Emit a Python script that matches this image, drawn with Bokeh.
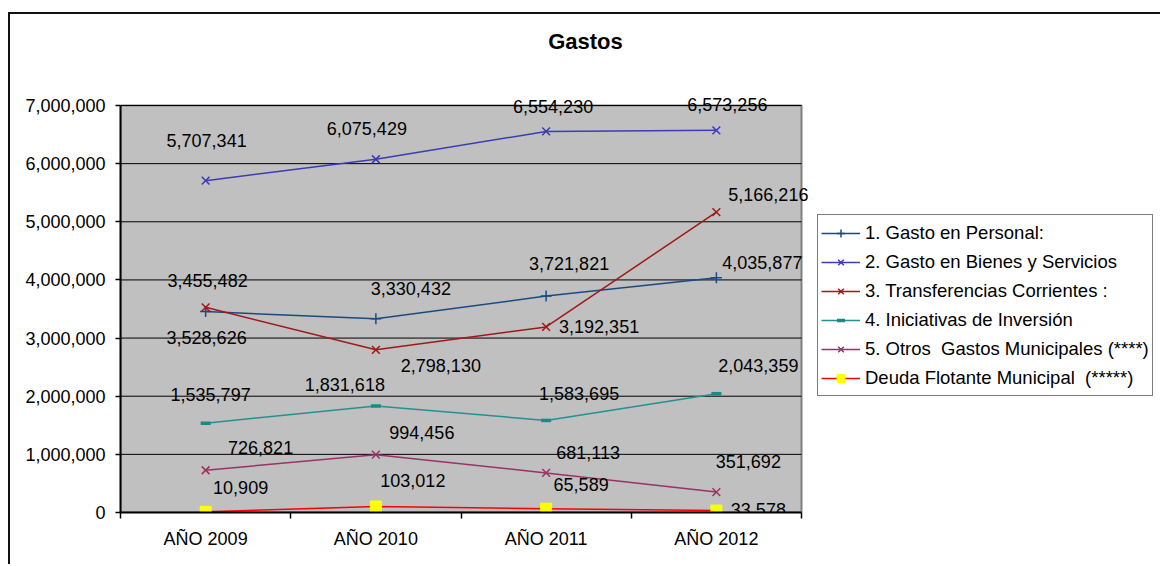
from bokeh.plotting import figure
from bokeh.models import (ColumnDataSource, Range1d, FixedTicker, NumeralTickFormatter,
                          LabelSet, Label, Legend, LegendItem)
from bokeh.core.properties import value
from bokeh.embed import file_html
from bokeh.resources import INLINE

# ---- data ----
years = ["AÑO 2009", "AÑO 2010", "AÑO 2011", "AÑO 2012"]
gasto_personal = [3455482, 3330432, 3721821, 4035877]
gasto_bienes = [5707341, 6075429, 6554230, 6573256]
transferencias = [3528626, 2798130, 3192351, 5166216]
iniciativas_inversion = [1535797, 1831618, 1583695, 2043359]
otros_gastos = [726821, 994456, 681113, 351692]
deuda_flotante = [10909, 103012, 65589, 33578]
y_ticks = [0, 1000000, 2000000, 3000000, 4000000, 5000000, 6000000, 7000000]

FONT = "Liberation Sans"
N = len(years)
Y_MAX = y_ticks[-1]
xs = [i + 0.5 for i in range(N)]

# ---- page geometry (pixels) ----
W, H = 1162, 566
OUTER_LEFT, OUTER_TOP = 8, 12            # outer chart border
CANVAS_W = W - OUTER_LEFT - 2
CANVAS_H = H - OUTER_TOP - 2
AREA_LEFT, AREA_RIGHT = 120, 801         # gray plotting area on the page
AREA_TOP, AREA_BOTTOM = 105, 512
CAT_PX = (AREA_RIGHT - AREA_LEFT) / N
VAL_PX = (AREA_BOTTOM - AREA_TOP) / Y_MAX

border_left = AREA_LEFT - OUTER_LEFT - 2
border_bottom = CANVAS_H - (AREA_BOTTOM - OUTER_TOP - 2)
frame_w = CANVAS_W - border_left
frame_h = CANVAS_H - border_bottom
x_end = frame_w / CAT_PX
y_end = frame_h / VAL_PX


def page_x(px):
    return (px - AREA_LEFT) / CAT_PX


def page_y(py):
    return (AREA_BOTTOM - py) / VAL_PX


# series: (legend label, values, line colour, marker, marker colour, marker size, marker line width, label offsets)
series = [
    ("1. Gasto en Personal:", gasto_personal, "#1B4A82", "cross", "#1B4A82", 11, 1.5,
     [(2, 31), (35, 30), (23, 33), (46, 15)]),
    ("2. Gasto en Bienes y Servicios", gasto_bienes, "#3C3CB4", "x", "#3C3CB4", 11, 1.5,
     [(1, 40), (-9, 31), (7, 25), (11, 26)]),
    ("3. Transferencias Corrientes :", transferencias, "#A01818", "x", "#A01818", 11, 1.5,
     [(1, -30), (65, -16), (53, 0), (52, 18)]),
    ("4. Iniciativas de Inversión", iniciativas_inversion, "#239191", "dash", "#1E8787", 10, 3.5,
     [(5, 29), (-31, 22), (33, 27), (42, 28)]),
    ("5. Otros  Gastos Municipales (****)", otros_gastos, "#993366", "x", "#993366", 11, 1.5,
     [(55, 23), (46, 22), (42, 20), (32, 31)]),
    ("Deuda Flotante Municipal  (*****)", deuda_flotante, "#FF0000", "square", "#FFFF00", 11, 0,
     [(35, 24), (37, 26), (35, 24), (42, 1)]),
]

p = figure(width=CANVAS_W, height=CANVAS_H, x_range=Range1d(0, x_end), y_range=Range1d(0, y_end),
           output_backend="svg", toolbar_location=None,
           min_border_left=border_left, min_border_right=0, min_border_top=0,
           min_border_bottom=border_bottom)
p.styles = {"margin-left": f"{OUTER_LEFT}px", "margin-top": f"{OUTER_TOP}px",
            "border-left": "2px solid #111", "border-top": "2px solid #111"}
p.background_fill_color = "white"
p.border_fill_color = "white"
p.outline_line_color = None
p.xgrid.visible = False
p.ygrid.visible = False

# gray plotting area with its gray top/right edge
p.quad(left=[0], right=[N], bottom=[0], top=[Y_MAX], fill_color="#C0C0C0",
       line_color="#808080", line_width=2)
# horizontal gridlines
p.segment(x0=[0] * len(y_ticks), x1=[N] * len(y_ticks), y0=y_ticks, y1=y_ticks,
          line_color="black", line_width=1)

# y axis
p.yaxis.ticker = FixedTicker(ticks=y_ticks)
p.yaxis.bounds = (0, Y_MAX)
p.yaxis.formatter = NumeralTickFormatter(format="0,0")
p.yaxis.major_tick_out = 5
p.yaxis.major_tick_in = 0
p.yaxis.minor_tick_out = 0
p.yaxis.minor_tick_in = 0
p.yaxis.major_label_standoff = 10
p.yaxis.axis_line_width = 2
p.yaxis.axis_line_color = "black"
p.yaxis.major_tick_line_color = "black"
p.yaxis.major_tick_line_width = 1.5
p.yaxis.major_label_text_font = FONT
p.yaxis.major_label_text_font_size = "18px"
p.yaxis.major_label_text_color = "black"

# x axis: labels centred on categories, ticks on category boundaries
p.xaxis.ticker = FixedTicker(ticks=xs, minor_ticks=list(range(N + 1)))
p.xaxis.bounds = (0, N)
p.xaxis.major_label_overrides = {x: lab for x, lab in zip(xs, years)}
p.xaxis.major_tick_out = 0
p.xaxis.major_tick_in = 0
p.xaxis.minor_tick_out = 6
p.xaxis.minor_tick_in = 0
p.xaxis.minor_tick_line_color = "black"
p.xaxis.minor_tick_line_width = 1.5
p.xaxis.major_label_standoff = 10
p.xaxis.axis_line_width = 2
p.xaxis.axis_line_color = "black"
p.xaxis.major_label_text_font = FONT
p.xaxis.major_label_text_font_size = "18px"
p.xaxis.major_label_text_color = "black"

items = []
lab_x, lab_y, lab_t, lab_dx, lab_dy = [], [], [], [], []
for name, vals, lcol, marker, mcol, msize, mlw, offs in series:
    src = ColumnDataSource(dict(x=xs, y=vals))
    r_line = p.line("x", "y", source=src, line_color=lcol, line_width=1.5)
    if marker == "square":
        r_mark = p.scatter("x", "y", source=src, marker=marker, size=msize,
                           fill_color=mcol, line_color=mcol, line_width=1)
    else:
        r_mark = p.scatter("x", "y", source=src, marker=marker, size=msize,
                           line_color=mcol, fill_color=mcol, line_width=mlw)
    items.append(LegendItem(label=name, renderers=[r_line, r_mark]))
    for x, v, (dx, dy) in zip(xs, vals, offs):
        lab_x.append(x)
        lab_y.append(v)
        lab_t.append(f"{v:,}")
        lab_dx.append(dx)
        lab_dy.append(dy)

labels_src = ColumnDataSource(dict(x=lab_x, y=lab_y, t=lab_t, dx=lab_dx, dy=lab_dy))
p.add_layout(LabelSet(x="x", y="y", text="t", x_offset="dx", y_offset="dy", source=labels_src,
                      text_font=value(FONT), text_font_size="18px", text_color="black",
                      text_align="center", text_baseline="middle"))

LEGEND_LEFT, LEGEND_BOTTOM = 817, 396
legend = Legend(items=items, location=(LEGEND_LEFT - AREA_LEFT, AREA_BOTTOM - LEGEND_BOTTOM),
                orientation="vertical",
                label_text_font=FONT, label_text_font_size="18.5px", label_text_color="black",
                glyph_width=39, glyph_height=20, label_height=29, label_standoff=5,
                spacing=0, padding=3, margin=0,
                border_line_color="black", border_line_width=1.5,
                background_fill_color="white", background_fill_alpha=1)
p.add_layout(legend, "center")

# chart title
p.add_layout(Label(x=page_x(585), y=page_y(41), text="Gastos",
                   text_font=FONT, text_font_size="22px", text_font_style="bold",
                   text_color="black", text_align="center", text_baseline="middle"))

open("out.html", "w").write(file_html(p, INLINE))
